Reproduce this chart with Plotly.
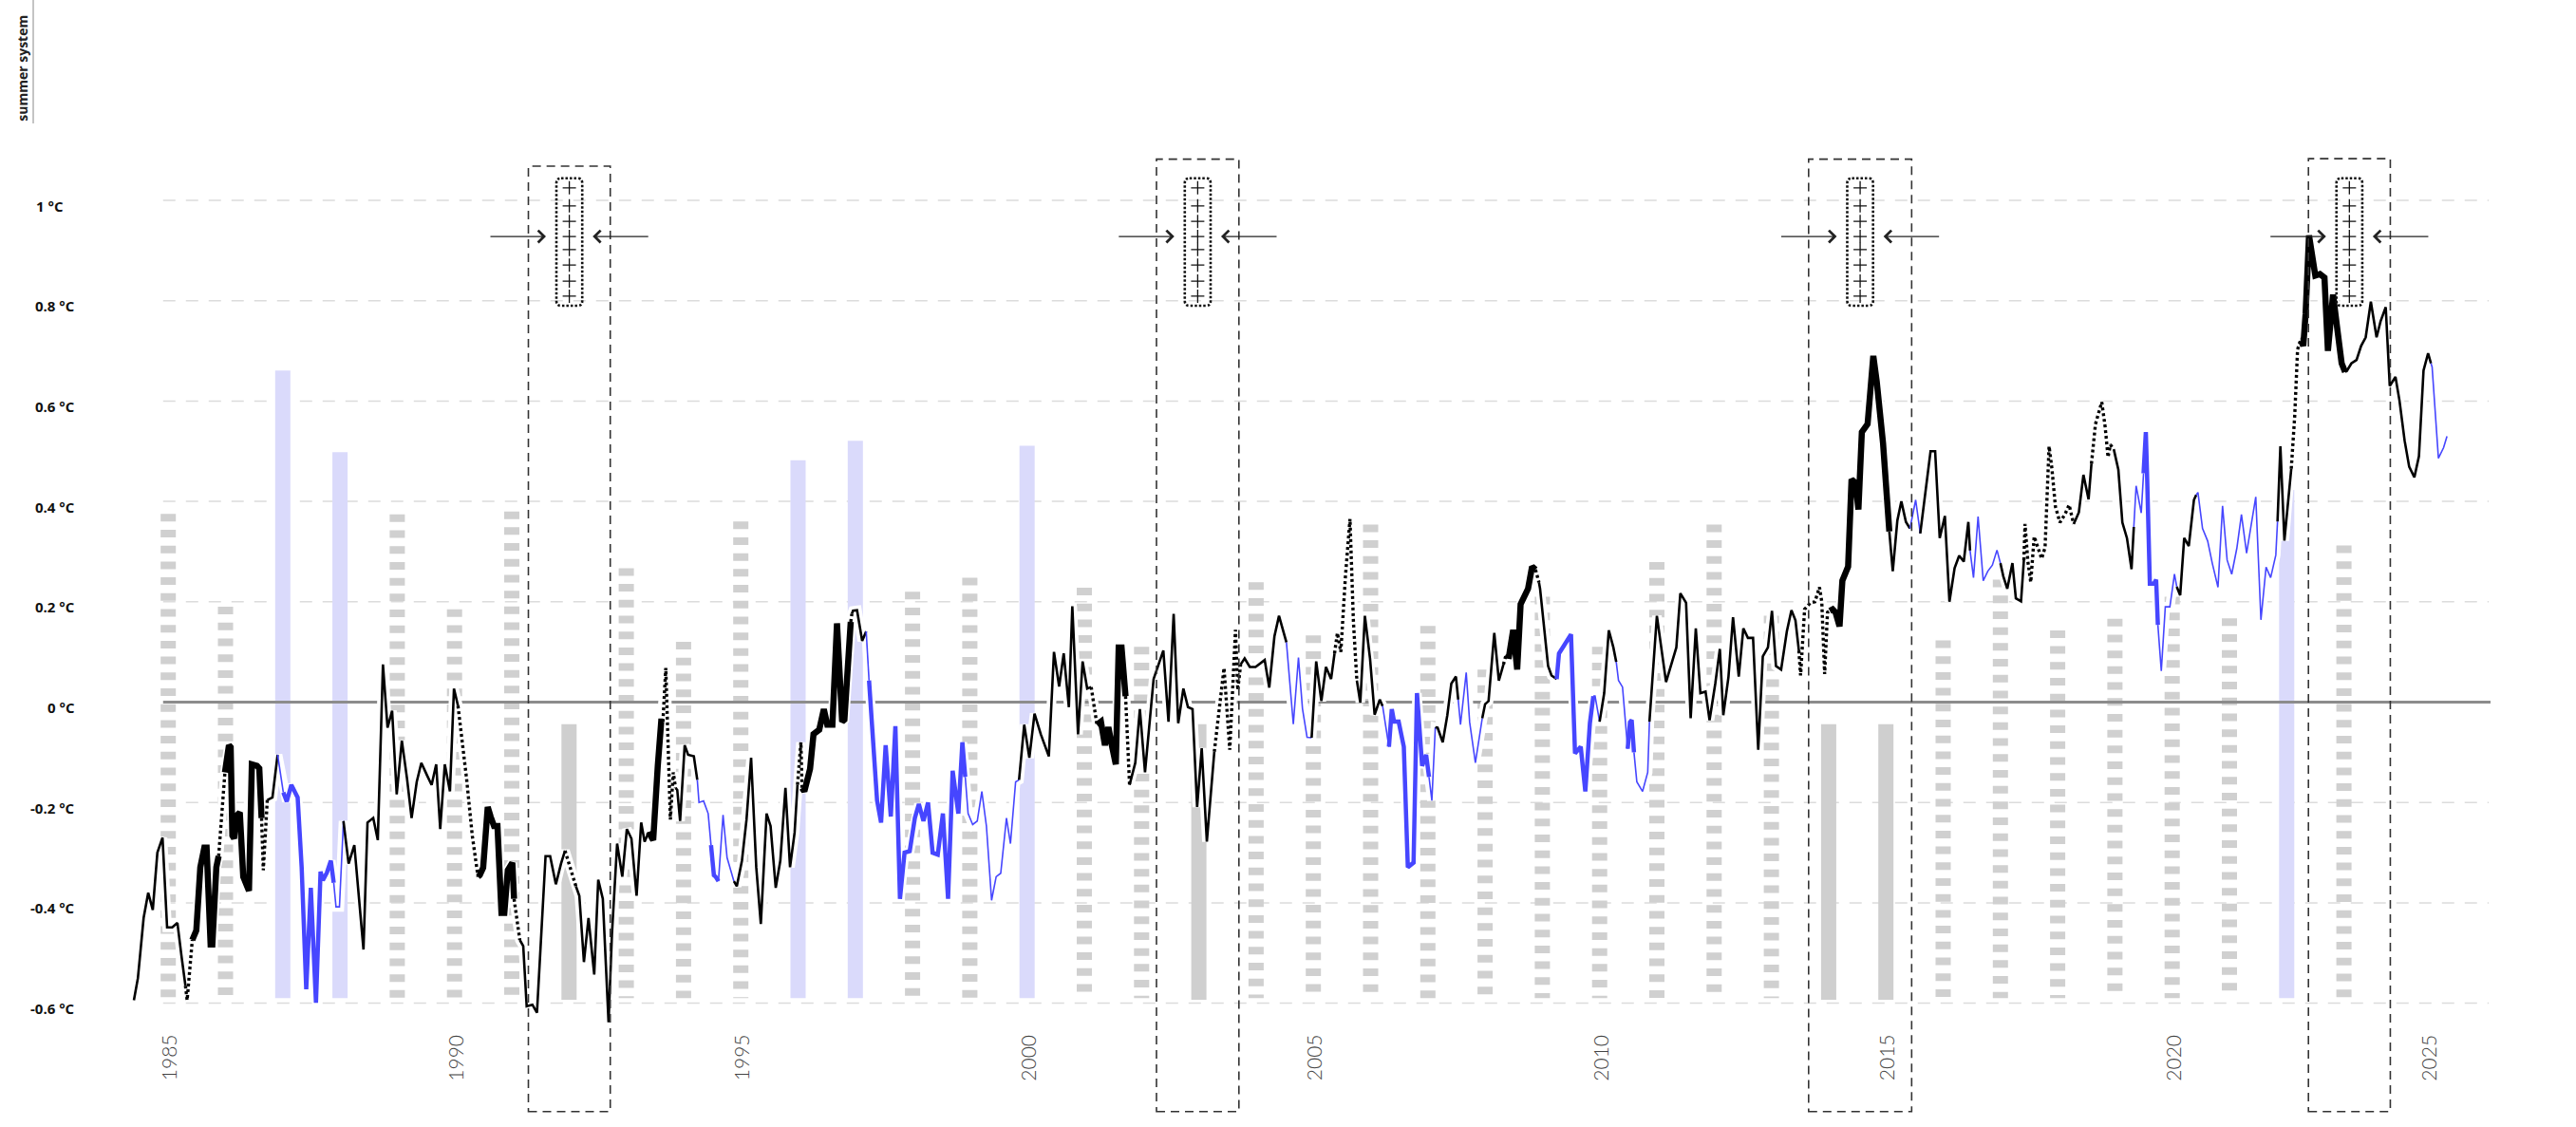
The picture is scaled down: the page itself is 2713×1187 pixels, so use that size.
import plotly.graph_objects as go

W, H = 2713, 1187

# ---------------- data ----------------
# monthly-ish temperature anomaly trace (decimal year, °C)
line_t = [
    1984.40, 1984.47, 1984.57, 1984.65, 1984.73, 1984.81, 1984.90, 1984.98, 1985.07, 1985.16, 1985.23, 1985.30,
    1985.33, 1985.42,
    1985.49, 1985.56, 1985.63, 1985.67, 1985.74, 1985.77, 1985.84, 1985.88,
    1985.99,
    1986.06, 1986.09, 1986.12, 1986.15, 1986.18, 1986.25, 1986.31, 1986.41, 1986.46, 1986.55, 1986.59, 1986.63,
    1986.66, 1986.73,
    1986.82, 1986.91,
    1987.01,
    1987.07, 1987.15, 1987.20, 1987.26, 1987.33, 1987.41, 1987.49, 1987.58, 1987.66, 1987.70, 1987.77, 1987.84, 1987.89,
    1987.93, 1987.99, 1988.06,
    1988.15, 1988.25, 1988.41, 1988.48, 1988.58, 1988.66, 1988.75, 1988.83, 1988.91, 1988.99, 1989.08, 1989.17,
    1989.25, 1989.34, 1989.42, 1989.52, 1989.60, 1989.68, 1989.75, 1989.83, 1989.92, 1989.99, 1990.06,
    1990.21, 1990.31, 1990.41,
    1990.44, 1990.50, 1990.58, 1990.63, 1990.69, 1990.75, 1990.82, 1990.87, 1990.93, 1991.01, 1991.04,
    1991.14,
    1991.20, 1991.26, 1991.36, 1991.44, 1991.52, 1991.59, 1991.67, 1991.77, 1991.86, 1991.93,
    1992.02, 1992.12,
    1992.18, 1992.26, 1992.34, 1992.44, 1992.51, 1992.59, 1992.69, 1992.75, 1992.84, 1992.93, 1993.01, 1993.09,
    1993.18, 1993.26, 1993.32, 1993.39,
    1993.47, 1993.55, 1993.61, 1993.64,
    1993.69, 1993.77, 1993.82, 1993.86,
    1993.89, 1993.94, 1994.02, 1994.08, 1994.18, 1994.24,
    1994.27, 1994.35, 1994.43, 1994.48,
    1994.53, 1994.56, 1994.61,
    1994.69, 1994.76, 1994.88,
    1994.93, 1995.02, 1995.10, 1995.18, 1995.27, 1995.35, 1995.45, 1995.52, 1995.61, 1995.69, 1995.78, 1995.86,
    1995.94, 1995.99,
    1996.05, 1996.07,
    1996.11, 1996.21, 1996.27, 1996.37, 1996.45, 1996.51, 1996.60, 1996.68, 1996.77, 1996.81, 1996.89, 1996.92,
    1996.94,
    1996.96, 1997.03, 1997.12, 1997.19,
    1997.24,
    1997.32, 1997.38, 1997.45, 1997.53, 1997.62, 1997.70, 1997.78, 1997.86, 1997.95, 1998.04, 1998.11, 1998.19,
    1998.27, 1998.35, 1998.44, 1998.53, 1998.62, 1998.70, 1998.80, 1998.87, 1998.92,
    1998.97, 1999.05, 1999.13, 1999.21, 1999.29, 1999.38, 1999.46, 1999.54, 1999.64, 1999.71, 1999.80, 1999.86,
    1999.95, 2000.04, 2000.13, 2000.24, 2000.38, 2000.47, 2000.56, 2000.64, 2000.73, 2000.79, 2000.89, 2000.97,
    2001.05, 2001.12,
    2001.22,
    2001.29, 2001.36, 2001.42, 2001.48, 2001.55, 2001.60, 2001.65, 2001.72,
    2001.79,
    2001.83, 2001.89, 2001.97, 2002.06, 2002.21, 2002.38, 2002.47, 2002.56, 2002.64, 2002.73, 2002.81, 2002.89,
    2002.97, 2003.05, 2003.14, 2003.27,
    2003.44, 2003.54, 2003.64, 2003.68, 2003.73,
    2003.80, 2003.89, 2003.99, 2004.15, 2004.23, 2004.32, 2004.40, 2004.53,
    2004.65, 2004.74, 2004.81, 2004.89, 2004.97,
    2005.05, 2005.14, 2005.22, 2005.31, 2005.37,
    2005.42, 2005.48, 2005.56, 2005.64, 2005.70, 2005.76,
    2005.82, 2005.90, 2005.99, 2006.07, 2006.16, 2006.21,
    2006.32,
    2006.37, 2006.41, 2006.49, 2006.58, 2006.65, 2006.75, 2006.81, 2006.90, 2006.97, 2007.02,
    2007.07, 2007.13,
    2007.17, 2007.26, 2007.34, 2007.41, 2007.49, 2007.53,
    2007.57, 2007.67, 2007.73, 2007.83, 2007.95,
    2008.00, 2008.06, 2008.16, 2008.24, 2008.32,
    2008.37, 2008.41,
    2008.44, 2008.49, 2008.56, 2008.62, 2008.75, 2008.82, 2008.88,
    2008.94,
    2008.96, 2009.10, 2009.16, 2009.25,
    2009.29, 2009.38, 2009.50, 2009.57, 2009.67, 2009.75, 2009.83, 2009.89,
    2009.92, 2010.00,
    2010.08, 2010.16, 2010.24, 2010.29,
    2010.33, 2010.40, 2010.49,
    2010.53, 2010.56, 2010.60,
    2010.65, 2010.75, 2010.84, 2010.87,
    2011.00, 2011.16, 2011.25, 2011.34, 2011.41, 2011.51, 2011.59, 2011.68, 2011.76, 2011.85, 2011.92, 2012.02,
    2012.10, 2012.16, 2012.25, 2012.33, 2012.43, 2012.51, 2012.59, 2012.68, 2012.77, 2012.85, 2012.94, 2013.01,
    2013.08, 2013.17, 2013.27, 2013.35, 2013.42, 2013.48,
    2013.51, 2013.58, 2013.68, 2013.76, 2013.84, 2013.88, 2013.93, 2013.98, 2014.02,
    2014.07, 2014.12, 2014.19, 2014.24, 2014.34, 2014.40, 2014.47, 2014.52, 2014.58, 2014.68, 2014.78, 2014.84,
    2014.95, 2015.06,
    2015.12, 2015.20, 2015.27, 2015.35, 2015.42,
    2015.45, 2015.52, 2015.60,
    2015.64, 2015.72, 2015.78, 2015.86, 2015.94, 2016.03, 2016.11, 2016.20, 2016.28, 2016.36, 2016.44, 2016.47,
    2016.53, 2016.61, 2016.70, 2016.78, 2016.86, 2016.94, 2017.00,
    2017.05, 2017.12, 2017.21, 2017.27, 2017.36, 2017.41,
    2017.43, 2017.48, 2017.53, 2017.59, 2017.65, 2017.72, 2017.78, 2017.85, 2017.90, 2017.96, 2018.04, 2018.13,
    2018.20, 2018.28,
    2018.37, 2018.45, 2018.54, 2018.59,
    2018.66, 2018.77, 2018.83, 2018.88, 2018.92, 2018.98,
    2019.06, 2019.13, 2019.21, 2019.29, 2019.33,
    2019.37, 2019.46, 2019.50,
    2019.54, 2019.56, 2019.61, 2019.68, 2019.72, 2019.75,
    2019.81, 2019.88, 2019.96, 2020.04, 2020.08,
    2020.14, 2020.21, 2020.29, 2020.38, 2020.42,
    2020.45, 2020.53, 2020.62, 2020.70, 2020.80, 2020.88, 2020.96, 2021.04, 2021.13, 2021.21, 2021.30, 2021.38,
    2021.46, 2021.55, 2021.64, 2021.72, 2021.81, 2021.84,
    2021.89, 2021.96, 2022.04, 2022.08,
    2022.14, 2022.19, 2022.24,
    2022.25, 2022.29, 2022.33, 2022.39, 2022.44, 2022.50, 2022.58, 2022.66, 2022.72, 2022.81, 2022.89, 2022.96,
    2023.02,
    2023.05, 2023.13, 2023.22, 2023.30, 2023.38, 2023.47, 2023.57, 2023.64, 2023.73, 2023.80, 2023.90, 2023.97,
    2024.06, 2024.14, 2024.23, 2024.31, 2024.39, 2024.47, 2024.52,
    2024.54, 2024.65, 2024.74, 2024.80,
]
line_v = [
    -0.594, -0.55, -0.43, -0.38, -0.414, -0.30, -0.27, -0.449, -0.449, -0.44, -0.505, -0.565,
    -0.594, -0.474,
    -0.455, -0.329, -0.29, -0.29, -0.483, -0.483, -0.329, -0.307,
    -0.14,
    -0.086, -0.09, -0.266, -0.272, -0.228, -0.22, -0.348, -0.376, -0.124, -0.127, -0.132, -0.231,
    -0.335, -0.195,
    -0.19, -0.105,
    -0.18,
    -0.198, -0.165, -0.175, -0.19, -0.329, -0.572, -0.37, -0.599, -0.338, -0.355, -0.34, -0.316, -0.36,
    -0.408, -0.408, -0.237,
    -0.322, -0.285, -0.493, -0.24, -0.231, -0.275, 0.075, -0.051, -0.017, -0.184, -0.077, -0.152,
    -0.231, -0.159, -0.121, -0.146, -0.165, -0.124, -0.253, -0.124, -0.178, 0.027, -0.007,
    -0.152, -0.266, -0.348,
    -0.345, -0.33, -0.209, -0.228, -0.247, -0.247, -0.42, -0.42, -0.335, -0.32, -0.392,
    -0.474,
    -0.486, -0.606, -0.603, -0.619, -0.455, -0.307, -0.307, -0.363, -0.322, -0.296,
    -0.329, -0.367,
    -0.386, -0.518, -0.43, -0.543, -0.354, -0.392, -0.638, -0.461, -0.282, -0.348, -0.253, -0.272,
    -0.386, -0.24, -0.278, -0.259,
    -0.275, -0.127, -0.039, -0.039,
    0.068, -0.234, -0.14, -0.171,
    -0.175, -0.237, -0.086, -0.105, -0.108, -0.155,
    -0.2, -0.197, -0.222, -0.285,
    -0.345, -0.348, -0.357,
    -0.225, -0.31, -0.357,
    -0.367, -0.316, -0.234, -0.111, -0.329, -0.442, -0.222, -0.247, -0.37, -0.316, -0.171, -0.329,
    -0.26, -0.165,
    -0.08, -0.171,
    -0.178, -0.133, -0.064, -0.055, -0.014, -0.045, -0.045, 0.157, -0.039, -0.035, 0.147, 0.16,
    0.176,
    0.182, 0.183, 0.122, 0.141,
    0.043,
    -0.114, -0.196, -0.24, -0.086, -0.228, -0.048, -0.392, -0.3, -0.297, -0.231, -0.203, -0.237,
    -0.2, -0.3, -0.304, -0.222, -0.392, -0.137, -0.222, -0.08, -0.149,
    -0.222, -0.244, -0.237, -0.178, -0.247, -0.395, -0.348, -0.341, -0.231, -0.282, -0.159, -0.155,
    -0.045, -0.111, -0.023, -0.064, -0.108, 0.1, 0.031, 0.097, -0.01, 0.191, -0.064, 0.081,
    0.027, 0.03,
    -0.045,
    -0.039, -0.086, -0.05, -0.086, -0.124, 0.109, 0.109, 0.012,
    -0.165,
    -0.146, -0.121, -0.014, -0.14, 0.046, 0.103, -0.039, 0.176, -0.042, 0.027, -0.01, -0.014,
    -0.209, -0.092, -0.278, -0.099,
    0.068, -0.095, 0.144, 0.024, 0.075,
    0.087, 0.07, 0.07, 0.084, 0.029, 0.131, 0.172, 0.119,
    -0.044, 0.089, -0.013, -0.07, -0.071,
    0.081, 0.002, 0.07, 0.046, 0.097,
    0.138, 0.10, 0.25, 0.365, 0.16, 0.043,
    -0.001, 0.172, 0.087, -0.025, 0.005, -0.008,
    -0.089,
    -0.014, -0.039, -0.039, -0.089, -0.329, -0.32, 0.018, -0.127, -0.105, -0.149,
    -0.196, -0.05,
    -0.051, -0.08, -0.026, 0.037, 0.051, 0.005,
    -0.045, 0.059, -0.04, -0.121, -0.032,
    -0.004, 0.002, 0.138, 0.043, 0.075,
    0.096, 0.086,
    0.113, 0.144, 0.065, 0.195, 0.226, 0.27, 0.264,
    0.239,
    0.226, 0.072, 0.053, 0.046,
    0.097, 0.113, 0.135, -0.102, -0.089, -0.178, -0.042, 0.012,
    0.012, -0.039,
    0.018, 0.143, 0.109, 0.08,
    0.043, 0.03, -0.093,
    -0.04, -0.036, -0.1,
    -0.159, -0.178, -0.14, -0.039,
    0.172, 0.04, 0.075, 0.109, 0.217, 0.198, -0.032, 0.147, 0.018, 0.021, -0.036, 0.037,
    0.106, -0.026, 0.05, 0.169, 0.051, 0.147, 0.128, 0.128, -0.095, 0.091, 0.109, 0.182,
    0.072, 0.065, 0.141, 0.183, 0.163, 0.103,
    0.053, 0.185, 0.198, 0.20, 0.229, 0.20, 0.056, 0.179, 0.182,
    0.185, 0.179, 0.151, 0.242, 0.27, 0.444, 0.437, 0.384, 0.538, 0.554, 0.69, 0.639,
    0.516, 0.34,
    0.261, 0.362, 0.40, 0.359, 0.346,
    0.365, 0.403, 0.336,
    0.371, 0.45, 0.50, 0.50, 0.327, 0.371, 0.20, 0.267, 0.292, 0.28, 0.359, 0.302,
    0.248, 0.37, 0.242, 0.261, 0.273, 0.303, 0.277,
    0.251, 0.226, 0.277, 0.207, 0.201, 0.283,
    0.355, 0.28, 0.239, 0.33, 0.31, 0.286, 0.308, 0.51, 0.465, 0.39, 0.358, 0.375,
    0.393, 0.355,
    0.378, 0.453, 0.404, 0.475,
    0.554, 0.598, 0.548, 0.488, 0.513, 0.504,
    0.463, 0.358, 0.327, 0.265, 0.349,
    0.431, 0.377, 0.456,
    0.538, 0.46, 0.236, 0.236, 0.244, 0.154,
    0.062, 0.19, 0.19, 0.255, 0.23,
    0.213, 0.327, 0.311, 0.403, 0.413,
    0.418, 0.346, 0.321, 0.277, 0.229, 0.391, 0.283, 0.255, 0.307, 0.374, 0.297, 0.353,
    0.409, 0.164, 0.269, 0.248, 0.293, 0.36,
    0.51, 0.322, 0.416, 0.465,
    0.57, 0.703, 0.72,
    0.72, 0.71, 0.773, 0.93, 0.899, 0.85, 0.853, 0.846, 0.70, 0.812, 0.738, 0.675,
    0.658,
    0.66, 0.675, 0.682, 0.71, 0.727, 0.798, 0.727, 0.759, 0.787, 0.63, 0.648, 0.601,
    0.521, 0.469, 0.448, 0.49, 0.661, 0.695, 0.675,
    0.668, 0.486, 0.507, 0.53,
]
# style of the trace from each start year on: n thin black, T thick black, d dotted, b thin blue, B thick blue
style_start = [
    1984.40, 1985.33, 1985.49, 1985.99, 1986.06, 1986.66, 1986.82, 1987.01, 1987.07, 1987.93,
    1988.15, 1990.21, 1990.44, 1991.14, 1991.20, 1992.02, 1992.18, 1993.47, 1993.69, 1993.89,
    1994.27, 1994.53, 1994.69, 1994.93, 1996.05, 1996.11, 1996.94, 1996.96, 1997.24, 1997.32,
    1998.97, 1999.95, 2001.22, 2001.29, 2001.79, 2001.83, 2003.44, 2003.80, 2004.65, 2005.05,
    2005.42, 2005.82, 2006.32, 2006.37, 2007.07, 2007.17, 2007.57, 2008.00, 2008.37, 2008.44,
    2008.94, 2008.96, 2009.29, 2009.92, 2010.08, 2010.33, 2010.53, 2010.65, 2011.00, 2013.51,
    2014.07, 2015.12, 2015.45, 2015.64, 2016.53, 2017.05, 2017.43, 2018.37, 2018.66, 2019.06,
    2019.37, 2019.54, 2019.81, 2020.14, 2020.45, 2021.89, 2022.14, 2022.25, 2023.05, 2024.54,
]
style_kind = [
    "n", "d", "T", "d", "T", "d", "n", "b", "B", "b",
    "n", "d", "T", "d", "n", "d", "n", "T", "d", "n",
    "b", "B", "b", "n", "d", "T", "d", "n", "b", "B",
    "b", "n", "d", "T", "d", "n", "d", "n", "b", "n",
    "d", "n", "b", "B", "b", "n", "b", "n", "d", "T",
    "d", "n", "B", "b", "n", "b", "B", "b", "n", "d",
    "T", "n", "b", "n", "b", "n", "d", "n", "d", "n",
    "b", "B", "b", "n", "b", "n", "d", "T", "n", "b",
]

# background columns (one per year)
dashed_bar_year = [1985, 1986, 1989, 1990, 1991, 1993, 1994, 1995, 1998, 1999, 2001, 2002, 2004, 2005,
                   2006, 2007, 2008, 2009, 2010, 2011, 2012, 2013, 2016, 2017, 2018, 2019, 2020, 2021, 2023]
dashed_bar_top = [0.375, 0.19, 0.374, 0.185, 0.38, 0.267, 0.12, 0.36, 0.22, 0.248, 0.228, 0.11, 0.239, 0.133,
                  0.354, 0.152, 0.065, 0.21, 0.11, 0.279, 0.354, 0.172, 0.123, 0.244, 0.143, 0.166, 0.21, 0.167, 0.312]
blue_bar_year = [1987, 1988, 1996, 1997, 2000, 2022]
blue_bar_top = [0.661, 0.498, 0.482, 0.521, 0.511, 0.423]
solid_bar_year = [1992, 2003, 2014, 2015]
solid_bar_top = [-0.044, -0.044, -0.044, -0.044]
bar_bottom = -0.59

# highlighted periods
period_start = [1991.29, 2002.26, 2013.65, 2022.38]
period_end = [1992.72, 2003.70, 2015.45, 2023.81]
period_top = [1.068, 1.082, 1.082, 1.083]
period_bottom = -0.816
plus_levels = [1.025, 0.989, 0.958, 0.928, 0.902, 0.871, 0.839, 0.809]
plus_box = (0.790, 1.044)
arrow_level = 0.928

y_ticks = [1, 0.8, 0.6, 0.4, 0.2, 0, -0.2, -0.4, -0.6]
y_tick_text = ["1 °C", "0.8 °C", "0.6 °C", "0.4 °C", "0.2 °C", "0 °C", "-0.2 °C", "-0.4 °C", "-0.6 °C"]
x_tick_pos = [1985, 1990, 1995, 2000, 2005, 2010, 2015, 2020, 2024.46]
x_tick_text = ["1985", "1990", "1995", "2000", "2005", "2010", "2015", "2020", "2025"]

# ---------------- scales ----------------
PX_PER_YEAR = 60.3
PX_PER_DEG = 528.5
X0 = 1985 - 177.2 / PX_PER_YEAR
X1 = X0 + W / PX_PER_YEAR
Y1 = 739.5 / PX_PER_DEG
Y0 = -(H - 739.5) / PX_PER_DEG
GRID_X0, GRID_X1 = 1984.91, 2025.53

STY = {
    "n": dict(color="#000000", width=2.6),
    "T": dict(color="#000000", width=6.5),
    "d": dict(color="#000000", width=3.4, dash="3px,3px"),
    "b": dict(color="#4646ff", width=1.6),
    "B": dict(color="#4646ff", width=4.5),
}

fig = go.Figure()

# dashed grey columns
xs, ys = [], []
for yr, top in zip(dashed_bar_year, dashed_bar_top):
    xs += [yr, yr, None]
    ys += [top, bar_bottom, None]
fig.add_trace(go.Scatter(x=xs, y=ys, mode="lines", hoverinfo="skip",
                         line=dict(color="#d0d0d0", width=16, dash="8px,8.7px")))

bar_w = 16 / PX_PER_YEAR
fig.add_trace(go.Bar(x=blue_bar_year, y=[t - bar_bottom for t in blue_bar_top], base=bar_bottom,
                     width=bar_w, marker=dict(color="#dadafb", line=dict(width=0)), hoverinfo="skip"))
fig.add_trace(go.Bar(x=solid_bar_year, y=[t - (-0.593) for t in solid_bar_top], base=-0.593,
                     width=bar_w, marker=dict(color="#cfcfcf", line=dict(width=0)), hoverinfo="skip"))

# zero line
fig.add_trace(go.Scatter(x=[GRID_X0, GRID_X1 + 0.03], y=[0, 0], mode="lines", hoverinfo="skip",
                         line=dict(color="#8c8c8c", width=3)))

# white halo under the series
fig.add_trace(go.Scatter(x=line_t, y=line_v, mode="lines", hoverinfo="skip",
                         line=dict(color="#ffffff", width=10)))

# styled runs
bounds = style_start + [9999]
for i, kind in enumerate(style_kind):
    idx = [k for k, t in enumerate(line_t) if bounds[i] <= t < bounds[i + 1]]
    if not idx:
        continue
    if idx[0] > 0:
        idx = [idx[0] - 1] + idx
    fig.add_trace(go.Scatter(x=[line_t[k] for k in idx], y=[line_v[k] for k in idx], mode="lines",
                             hoverinfo="skip", line=dict(**STY[kind])))

shapes = []
for v in y_ticks:
    if v == 0:
        continue
    shapes.append(dict(type="line", xref="x", yref="y", x0=GRID_X0, x1=GRID_X1, y0=v, y1=v, layer="below",
                       line=dict(color="#dcdcdc", width=1.5, dash="13px,11px")))

annotations = []
half_w = 13.6 / PX_PER_YEAR
rx, ry = 5 / PX_PER_YEAR, 5 / PX_PER_DEG
for ps, pe, pt in zip(period_start, period_end, period_top):
    shapes.append(dict(type="rect", xref="x", yref="y", x0=ps, x1=pe, y0=period_bottom, y1=pt, layer="above",
                       line=dict(color="#333333", width=1.6, dash="9px,6px")))
    c = (ps + pe) / 2
    a, b = c - half_w, c + half_w
    lo, hi = plus_box
    path = (f"M{a+rx},{hi} L{b-rx},{hi} Q{b},{hi} {b},{hi-ry} L{b},{lo+ry} Q{b},{lo} {b-rx},{lo} "
            f"L{a+rx},{lo} Q{a},{lo} {a},{lo+ry} L{a},{hi-ry} Q{a},{hi} {a+rx},{hi} Z")
    shapes.append(dict(type="path", xref="x", yref="y", path=path, layer="above",
                       line=dict(color="#111111", width=2.6, dash="2.5px,2px")))
    fig.add_trace(go.Scatter(x=[c] * len(plus_levels), y=plus_levels, mode="markers", hoverinfo="skip",
                             marker=dict(symbol="cross-thin", size=10, color="#111111",
                                         line=dict(width=1.3, color="#111111"))))
    for head, tail in ((a - 11 / PX_PER_YEAR, a - 71 / PX_PER_YEAR), (b + 11 / PX_PER_YEAR, b + 71 / PX_PER_YEAR)):
        annotations.append(dict(x=head, y=arrow_level, ax=tail, ay=arrow_level, xref="x", yref="y",
                                axref="x", ayref="y", text="", showarrow=True, arrowhead=4,
                                arrowsize=1.9, arrowwidth=1.3, arrowcolor="#222222"))

# y labels
for v, txt in zip(y_ticks, y_tick_text):
    if v == 1:
        annotations.append(dict(x=36 / W, xref="paper", y=v, yref="y", text=txt, showarrow=False,
                                xanchor="left", yanchor="middle", yshift=-5.5,
                                font=dict(family="Open Sans", size=15, color="#111111", weight="bold")))
    else:
        annotations.append(dict(x=81 / W, xref="paper", y=v, yref="y", text=txt, showarrow=False,
                                xanchor="right", yanchor="middle", yshift=-5.5,
                                font=dict(family="Open Sans", size=15, color="#111111", weight="bold")))

# x labels
for p, txt in zip(x_tick_pos, x_tick_text):
    annotations.append(dict(x=p, xref="x", y=-(1114 - 739.5) / PX_PER_DEG, yref="y", text=txt,
                            showarrow=False, textangle=-90, xanchor="center", yanchor="middle",
                            font=dict(family="Lato", size=21, color="#444444", weight=300)))

annotations.append(dict(x=24 / W, xref="paper", y=1 - 71.7 / H, yref="paper", text="summer system",
                        showarrow=False, textangle=-90, xanchor="center", yanchor="middle",
                        font=dict(family="Open Sans", size=14, color="#222222", weight="bold")))
shapes.append(dict(type="line", xref="paper", yref="paper", x0=35 / W, x1=35 / W, y0=1, y1=1 - 130 / H,
                   line=dict(color="#b0b0b0", width=1.5)))

fig.update_layout(
    width=W, height=H, autosize=False,
    margin=dict(l=0, r=0, t=0, b=0, pad=0),
    paper_bgcolor="white", plot_bgcolor="white",
    showlegend=False, barmode="overlay",
    xaxis=dict(range=[X0, X1], visible=False, fixedrange=True),
    yaxis=dict(range=[Y0, Y1], visible=False, fixedrange=True),
    shapes=shapes, annotations=annotations,
)

fig.write_html("out.html", config={"displayModeBar": False},
               post_script="document.body.style.margin='0px';document.body.style.overflow='hidden';")
